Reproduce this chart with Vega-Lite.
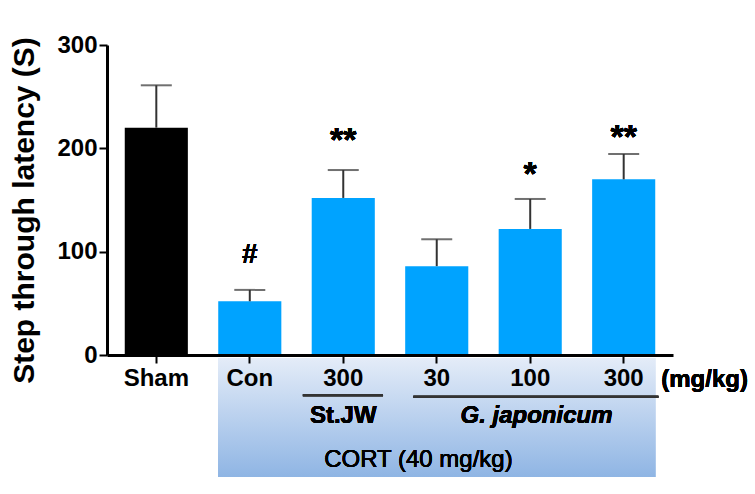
{
  "$schema": "https://vega.github.io/schema/vega-lite/v6.json",
  "autosize": "none",
  "padding": {"left": 107, "top": 45, "right": 82, "bottom": 139},
  "width": 566,
  "height": 310,
  "background": "white",
  "config": {"view": {"stroke": null}, "font": "Liberation Sans", "text": {"font": "Liberation Sans"},
    "axisX": {"title": null, "labelAngle": 0, "labelAlign": "center", "labelBaseline": "top", "labelFontSize": 24, "labelFontWeight": "bold", "labelColor": "black", "labelFont": "Liberation Sans", "labelPadding": 3,
      "domainColor": "black", "domainWidth": 3, "tickColor": "black", "tickWidth": 2, "tickSize": 8},
    "axisY": {"grid": false, "titleFontSize": 30, "titleFontWeight": "bold", "titleColor": "black", "titleFont": "Liberation Sans", "titlePadding": 17, "titleY": 165,
      "labelFontSize": 24, "labelFontWeight": "bold", "labelColor": "black", "labelFont": "Liberation Sans", "labelPadding": 2,
      "domainColor": "black", "domainWidth": 3, "tickColor": "black", "tickWidth": 2, "tickSize": 8}
  },
  "data": {"values": [
    {"group": "Sham", "mean": 220, "upper": 261, "treat": "Sham"},
    {"group": "Con", "mean": 52, "upper": 63, "treat": "CORT"},
    {"group": "StJW300", "mean": 152, "upper": 179, "treat": "CORT"},
    {"group": "Gj30", "mean": 86, "upper": 112, "treat": "CORT"},
    {"group": "Gj100", "mean": 122, "upper": 151, "treat": "CORT"},
    {"group": "Gj300", "mean": 170, "upper": 194.5, "treat": "CORT"}
  ]},
  "layer": [
    {
      "mark": {"type": "rect", "fill": {"gradient": "linear", "x1": 0, "y1": 0, "x2": 0, "y2": 1, "stops": [{"offset": 0, "color": "#e4ecf8"}, {"offset": 1, "color": "#8fb5e4"}]}},
      "encoding": {
        "x": {"datum": "Con", "type": "nominal", "bandPosition": 0, "scale": {"domain": ["Sham", "Con", "StJW300", "Gj30", "Gj100", "Gj300"], "paddingInner": 0.325, "paddingOuter": 0.19},
          "axis": {"title": null, "labelExpr": "datum.value == 'StJW300' || datum.value == 'Gj300' ? '300' : datum.value == 'Gj30' ? '30' : datum.value == 'Gj100' ? '100' : datum.value"}},
        "x2": {"datum": "Gj300", "bandPosition": 1},
        "y": {"datum": -3, "type": "quantitative", "scale": {"domain": [0, 300], "nice": false},
          "axis": {"values": [0, 100, 200, 300], "title": "Step through latency (S)"}},
        "y2": {"datum": -118}
      }
    },
    {
      "mark": {"type": "bar"},
      "encoding": {
        "x": {"field": "group", "type": "nominal", "scale": {"domain": ["Sham", "Con", "StJW300", "Gj30", "Gj100", "Gj300"], "paddingInner": 0.325, "paddingOuter": 0.19},
          "axis": {"title": null, "labelExpr": "datum.value == 'StJW300' || datum.value == 'Gj300' ? '300' : datum.value == 'Gj30' ? '30' : datum.value == 'Gj100' ? '100' : datum.value"}},
        "y": {"field": "mean", "type": "quantitative", "scale": {"domain": [0, 300], "nice": false},
          "axis": {"values": [0, 100, 200, 300], "title": "Step through latency (S)"}},
        "color": {"field": "treat", "type": "nominal", "scale": {"domain": ["Sham", "CORT"], "range": ["#000000", "#00a3ff"]}, "legend": null}
      }
    },
    {
      "mark": {"type": "rule", "color": "#333333", "strokeWidth": 2},
      "encoding": {
        "x": {"field": "group", "type": "nominal"},
        "y": {"field": "mean", "type": "quantitative"},
        "y2": {"field": "upper"}
      }
    },
    {
      "mark": {"type": "tick", "color": "#333333", "thickness": 2, "size": 31},
      "encoding": {
        "x": {"field": "group", "type": "nominal"},
        "y": {"field": "upper", "type": "quantitative"}
      }
    },
    {
      "mark": {"type": "text", "fontSize": 28, "fontWeight": "bold", "baseline": "alphabetic", "color": "black"},
      "encoding": {"x": {"datum": "Con", "type": "nominal"}, "y": {"datum": 89, "type": "quantitative"}, "text": {"value": "#"}}
    },
    {
      "mark": {"type": "text", "fontSize": 34, "fontWeight": "bold", "baseline": "alphabetic", "color": "black"},
      "encoding": {"x": {"datum": "StJW300", "type": "nominal"}, "y": {"datum": 197.5, "type": "quantitative"}, "text": {"value": "**"}}
    },
    {
      "mark": {"type": "text", "fontSize": 34, "fontWeight": "bold", "baseline": "alphabetic", "color": "black"},
      "encoding": {"x": {"datum": "Gj100", "type": "nominal"}, "y": {"datum": 164.5, "type": "quantitative"}, "text": {"value": "*"}}
    },
    {
      "mark": {"type": "text", "fontSize": 34, "fontWeight": "bold", "baseline": "alphabetic", "color": "black"},
      "encoding": {"x": {"datum": "Gj300", "type": "nominal"}, "y": {"datum": 200, "type": "quantitative"}, "text": {"value": "**"}}
    },
    {
      "mark": {"type": "text", "fontSize": 24, "fontWeight": "bold", "baseline": "alphabetic", "align": "left", "dx": 6, "color": "black"},
      "encoding": {"x": {"datum": "Gj300", "type": "nominal", "bandPosition": 1}, "y": {"datum": -30.5, "type": "quantitative"}, "text": {"value": "(mg/kg)"}}
    },
    {
      "mark": {"type": "rule", "color": "#333333", "strokeWidth": 2},
      "encoding": {"x": {"datum": "StJW300", "type": "nominal", "bandPosition": -0.14}, "x2": {"datum": "StJW300", "bandPosition": 1.13}, "y": {"datum": -39, "type": "quantitative"}}
    },
    {
      "mark": {"type": "rule", "color": "#333333", "strokeWidth": 2},
      "encoding": {"x": {"datum": "Gj30", "type": "nominal", "bandPosition": 0.13}, "x2": {"datum": "Gj300", "bandPosition": 1.05}, "y": {"datum": -40.5, "type": "quantitative"}}
    },
    {
      "mark": {"type": "text", "fontSize": 24, "fontWeight": "bold", "baseline": "alphabetic", "color": "black"},
      "encoding": {"x": {"datum": "StJW300", "type": "nominal"}, "y": {"datum": -66, "type": "quantitative"}, "text": {"value": "St.JW"}}
    },
    {
      "mark": {"type": "text", "fontSize": 24, "fontWeight": "bold", "fontStyle": "italic", "baseline": "alphabetic", "color": "black"},
      "encoding": {"x": {"datum": "Gj100", "type": "nominal", "bandPosition": 0.6}, "y": {"datum": -66, "type": "quantitative"}, "text": {"value": "G. japonicum"}}
    },
    {
      "mark": {"type": "text", "fontSize": 24, "baseline": "alphabetic", "color": "black"},
      "encoding": {"x": {"datum": "Gj30", "type": "nominal", "bandPosition": 0.21}, "y": {"datum": -108, "type": "quantitative"}, "text": {"value": "CORT (40 mg/kg)"}}
    }
  ]
}
